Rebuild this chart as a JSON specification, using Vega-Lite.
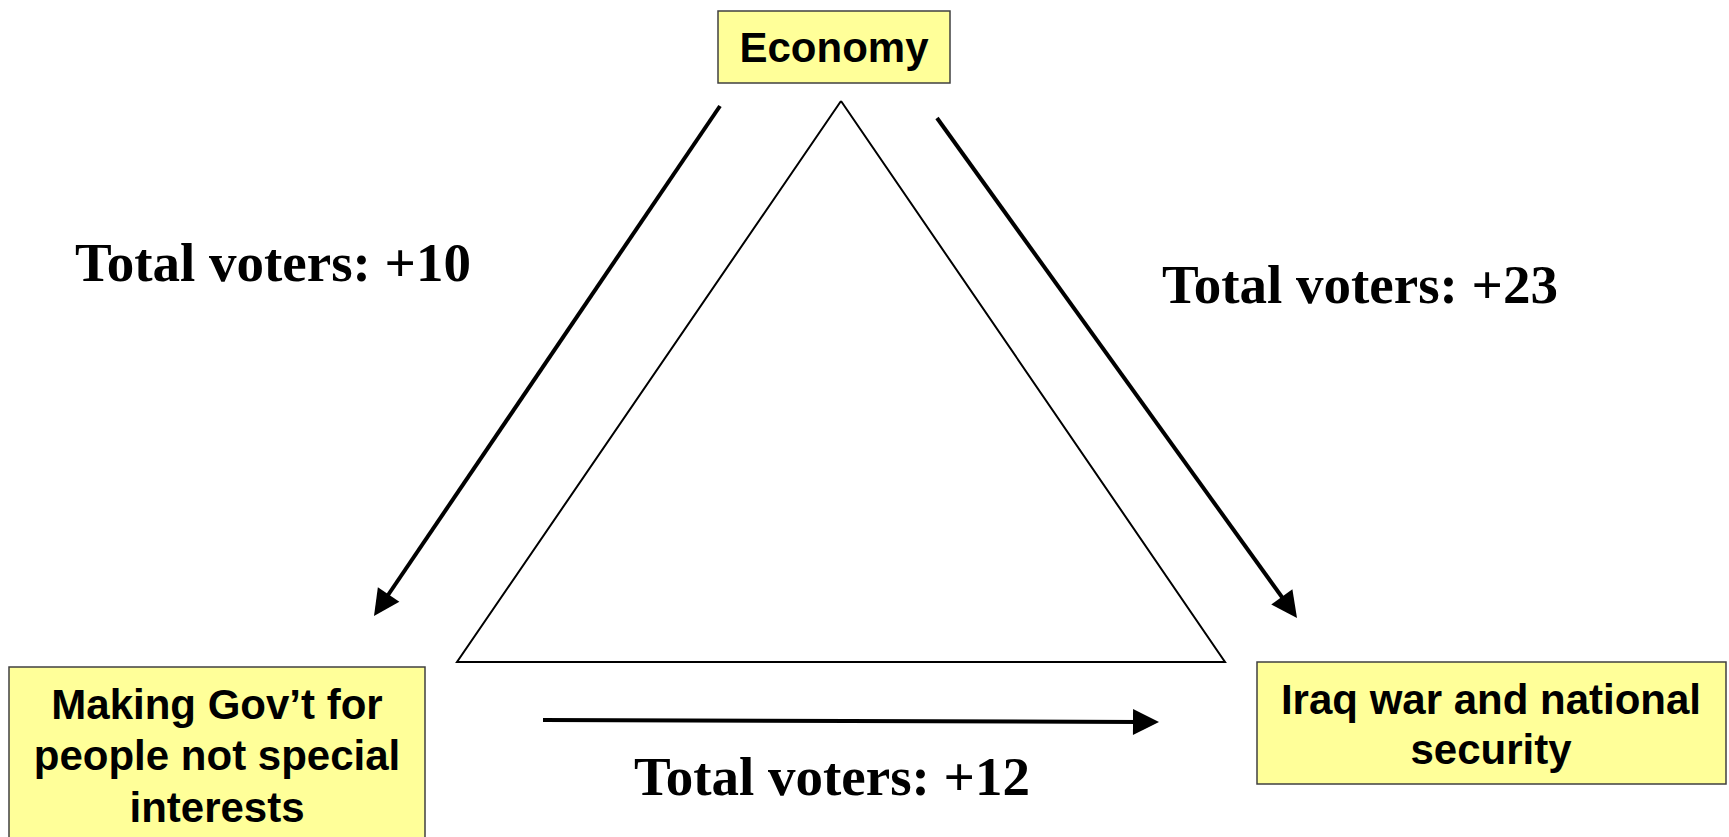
{
  "$schema": "https://vega.github.io/schema/vega-lite/v6.json",
  "width": 1729,
  "height": 837,
  "autosize": {"type": "fit", "contains": "padding"},
  "padding": 0,
  "background": "white",
  "config": {"view": {"stroke": null}},
  "datasets": {
    "boxes": [
      {"name": "Economy", "x1": 718, "x2": 950, "y1": 11, "y2": 83},
      {"name": "Gov", "x1": 9, "x2": 425, "y1": 667, "y2": 850},
      {"name": "Iraq", "x1": 1257, "x2": 1726, "y1": 662, "y2": 784}
    ],
    "triangle": [
      {"order": 1, "x": 841, "y": 101},
      {"order": 2, "x": 457, "y": 662},
      {"order": 3, "x": 1225, "y": 662},
      {"order": 4, "x": 841, "y": 101}
    ],
    "shafts": [
      {"arrow": "left", "order": 1, "x": 720, "y": 106},
      {"arrow": "left", "order": 2, "x": 384, "y": 601},
      {"arrow": "right", "order": 1, "x": 937, "y": 118},
      {"arrow": "right", "order": 2, "x": 1286.5, "y": 603.4},
      {"arrow": "bottom", "order": 1, "x": 543, "y": 720},
      {"arrow": "bottom", "order": 2, "x": 1141, "y": 722}
    ],
    "heads": [
      {"arrow": "left", "x": 374, "y": 616, "angle": 214.2},
      {"arrow": "right", "x": 1297, "y": 618, "angle": 144.3},
      {"arrow": "bottom", "x": 1159, "y": 722, "angle": 90.2}
    ],
    "labels": [
      {"kind": "box", "text": "Economy", "x": 834, "y": 62},
      {"kind": "box", "text": "Making Gov’t for", "x": 217, "y": 719},
      {"kind": "box", "text": "people not special", "x": 217, "y": 770},
      {"kind": "box", "text": "interests", "x": 217, "y": 822},
      {"kind": "box", "text": "Iraq war and national", "x": 1491, "y": 714},
      {"kind": "box", "text": "security", "x": 1491, "y": 764},
      {"kind": "flow", "text": "Total voters: +10", "x": 273, "y": 281},
      {"kind": "flow", "text": "Total voters: +23", "x": 1360, "y": 303},
      {"kind": "flow", "text": "Total voters: +12", "x": 832, "y": 795}
    ]
  },
  "layer": [
    {
      "data": {"name": "boxes"},
      "mark": {"type": "rect", "fill": "#FFFF99", "stroke": "#404040", "strokeWidth": 1.5, "clip": true},
      "encoding": {
        "x": {"field": "x1", "type": "quantitative", "scale": {"domain": [0, 1729], "nice": false, "zero": false}, "axis": null},
        "x2": {"field": "x2"},
        "y": {"field": "y1", "type": "quantitative", "scale": {"domain": [0, 837], "nice": false, "zero": false, "reverse": true}, "axis": null},
        "y2": {"field": "y2"}
      }
    },
    {
      "data": {"name": "triangle"},
      "mark": {"type": "line", "color": "black", "strokeWidth": 2, "strokeJoin": "miter"},
      "encoding": {
        "x": {"field": "x", "type": "quantitative"},
        "y": {"field": "y", "type": "quantitative"},
        "order": {"field": "order", "type": "quantitative"}
      }
    },
    {
      "data": {"name": "shafts"},
      "mark": {"type": "line", "color": "black", "strokeWidth": 4, "strokeCap": "butt"},
      "encoding": {
        "x": {"field": "x", "type": "quantitative"},
        "y": {"field": "y", "type": "quantitative"},
        "detail": {"field": "arrow", "type": "nominal"},
        "order": {"field": "order", "type": "quantitative"}
      }
    },
    {
      "data": {"name": "heads"},
      "mark": {"type": "point", "shape": "M0,0L-1,2L1,2Z", "size": 676, "filled": true, "fill": "black", "stroke": null, "opacity": 1},
      "encoding": {
        "x": {"field": "x", "type": "quantitative"},
        "y": {"field": "y", "type": "quantitative"},
        "angle": {"field": "angle", "type": "quantitative", "scale": null}
      }
    },
    {
      "data": {"name": "labels"},
      "transform": [{"filter": "datum.kind === 'box'"}],
      "mark": {"type": "text", "font": "Liberation Sans", "fontWeight": "bold", "fontSize": 42, "align": "center", "baseline": "alphabetic", "color": "black"},
      "encoding": {
        "x": {"field": "x", "type": "quantitative"},
        "y": {"field": "y", "type": "quantitative"},
        "text": {"field": "text"}
      }
    },
    {
      "data": {"name": "labels"},
      "transform": [{"filter": "datum.kind === 'flow'"}],
      "mark": {"type": "text", "font": "Liberation Serif", "fontWeight": "bold", "fontSize": 55, "align": "center", "baseline": "alphabetic", "color": "black"},
      "encoding": {
        "x": {"field": "x", "type": "quantitative"},
        "y": {"field": "y", "type": "quantitative"},
        "text": {"field": "text"}
      }
    }
  ]
}
